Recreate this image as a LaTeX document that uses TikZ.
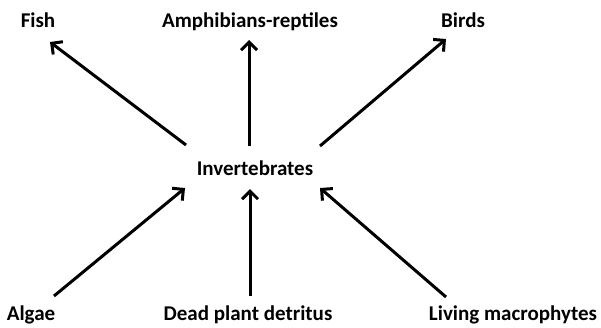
\documentclass[tikz,border=0pt]{standalone}
\usepackage{fontspec}
\setmainfont{Carlito}
\usetikzlibrary{arrows.meta}
\begin{document}
\begin{tikzpicture}[x=1pt,y=-1pt,
  lbl/.style={font=\fontsize{21}{23}\selectfont\bfseries, inner sep=0pt, anchor=base},
  arr/.style={line width=3pt, -{Straight Barb[length=8pt,width=16pt,line width=3pt]}}]
\useasboundingbox (0,0) rectangle (601,327);
\node[lbl] (fish) at (38,27) {Fish};
\node[lbl] (amph) at (250,27) {Amphibians-reptiles};
\node[lbl] (birds) at (463,27) {Birds};
\node[lbl] (inv) at (255,175) {Invertebrates};
\node[lbl] (algae) at (31,320) {Algae};
\node[lbl] (dead) at (248,320) {Dead plant detritus};
\node[lbl] (liv) at (513,320) {Living macrophytes};
\coordinate (f1) at (186,145); \coordinate (f2) at (50,42);
\coordinate (a1) at (249,146); \coordinate (a2) at (249,40);
\coordinate (b1) at (320,146); \coordinate (b2) at (446,39);
\coordinate (g1) at (54,296); \coordinate (g2) at (185,188);
\coordinate (d1) at (250,296); \coordinate (d2) at (250,189);
\coordinate (l1) at (446,297); \coordinate (l2) at (320,188);
\draw[arr] (f1) -- (f2);
\draw[arr] (a1) -- (a2);
\draw[arr] (b1) -- (b2);
\draw[arr] (g1) -- (g2);
\draw[arr] (d1) -- (d2);
\draw[arr] (l1) -- (l2);
\end{tikzpicture}
\end{document}
